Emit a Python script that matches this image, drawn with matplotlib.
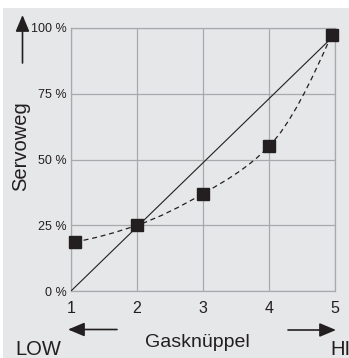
import matplotlib.pyplot as plt
import numpy as np
from matplotlib.path import Path
from matplotlib.patches import PathPatch, Rectangle, FancyArrowPatch
plt.rcParams.update({"font.family": "Liberation Sans"})

W, H = 349, 358

# daten
gas_x = [1, 2, 3, 4, 5]
gas_labels = ['1', '2', '3', '4', '5']
servo_ticks = [0, 25, 50, 75, 100]
servo_labels = ['0 %', '25 %', '50 %', '75 %', '100 %']

# lineare kennlinie
lin_x = [1, 5]
lin_y = [0, 97.5]

# expo-kennlinie (punkte)
expo_x = [1.06, 2, 3, 4, 4.95]
expo_y = [18.7, 25, 37, 55, 97.5]


def fx(px):
	return px / W


def fy(py):
	return 1 - py / H


def smooth_path(xs, ys):
	# monotone hermite-kurve (pchip-tangenten) als bezier-pfad
	x = np.asarray(xs, float)
	y = np.asarray(ys, float)
	h = np.diff(x)
	d = np.diff(y) / h
	m = np.zeros_like(x)
	for i in range(1, len(x) - 1):
		w1 = 2*h[i] + h[i-1]
		w2 = h[i] + 2*h[i-1]
		m[i] = (w1 + w2) / (w1/d[i-1] + w2/d[i])
	m[0] = ((2*h[0] + h[1])*d[0] - h[0]*d[1]) / (h[0] + h[1])
	m[-1] = ((2*h[-1] + h[-2])*d[-1] - h[-1]*d[-2]) / (h[-1] + h[-2])
	verts = [(x[0], y[0])]
	codes = [Path.MOVETO]
	for i in range(len(x) - 1):
		k = h[i] / 3
		verts += [(x[i] + k, y[i] + k*m[i]), (x[i+1] - k, y[i+1] - k*m[i+1]), (x[i+1], y[i+1])]
		codes += [Path.CURVE4] * 3
	return Path(verts, codes)


fig = plt.figure(figsize=(W/100, H/100), dpi=100, facecolor='white')
fig.add_artist(Rectangle((fx(3), 0), 1, fy(8), transform=fig.transFigure,
	facecolor='#e6e7e8', edgecolor='none', zorder=0))

ax = fig.add_axes([fx(71), fy(291), fx(335) - fx(71), fy(28) - fy(291)])
ax.set_facecolor('none')
ax.set_xlim(1, 5)
ax.set_ylim(0, 100)
gridc = '#a7a9ac'
for s in ax.spines.values():
	s.set_color(gridc)
	s.set_linewidth(0.9)
ax.set_xticks(gas_x, gas_labels, fontsize=11.5, color='#231f20')
ax.set_yticks(servo_ticks, servo_labels, fontsize=9, color='#231f20')
ax.tick_params(axis='x', length=0, pad=7)
ax.tick_params(axis='y', length=0, pad=3)
ax.grid(True, color=gridc, linewidth=0.9)
ax.set_axisbelow(True)

ax.plot(lin_x, lin_y, color='#231f20', lw=0.8, zorder=3)
ax.add_patch(PathPatch(smooth_path(expo_x, expo_y), facecolor='none',
	edgecolor='#231f20', lw=0.9, linestyle=(0, (4, 3)), zorder=3))
ax.plot(expo_x, expo_y, 's', color='#231f20', markersize=8.6, zorder=4, clip_on=False)

# beschriftungen
fig.text(fx(26), fy(146), 'Servoweg', rotation=90, rotation_mode='anchor',
	ha='center', va='baseline', fontsize=14.5, color='#231f20')
fig.text(fx(197), fy(347), 'Gasknüppel', ha='center', va='baseline', fontsize=14, color='#231f20')
fig.text(fx(15), fy(355), 'LOW', ha='left', va='baseline', fontsize=14.5, color='#231f20')
fig.text(fx(330), fy(355), 'HI', ha='left', va='baseline', fontsize=14.5, color='#231f20')

arrow_kw = dict(transform=fig.transFigure, arrowstyle='-|>,head_length=1.0,head_width=0.42',
	mutation_scale=10, color='#231f20', lw=1.2, shrinkA=0, shrinkB=0)
fig.add_artist(FancyArrowPatch((fx(22.5), fy(63)), (fx(22.5), fy(15)), **arrow_kw))
fig.add_artist(FancyArrowPatch((fx(117), fy(329.5)), (fx(68), fy(329.5)), **arrow_kw))
fig.add_artist(FancyArrowPatch((fx(288), fy(330)), (fx(336), fy(330)), **arrow_kw))

fig.savefig('out.png', dpi=100, facecolor='white')
